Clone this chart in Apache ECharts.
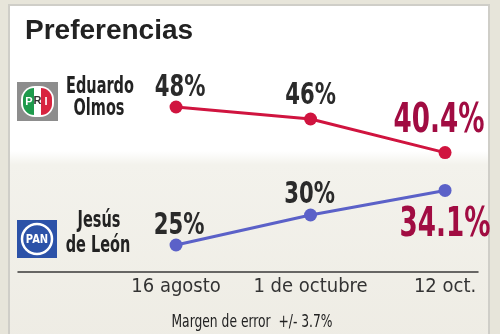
<!DOCTYPE html>
<html><head><meta charset="utf-8">
<script src="https://cdn.jsdelivr.net/npm/echarts@6/dist/echarts.min.js"></script>
<style>html,body{margin:0;padding:0;}#c{width:500px;height:334px;}</style>
</head><body><div id="c"></div>
<script>
const categories = ['16 agosto', '1 de octubre', '12 oct.'];
const olmos = [48, 46, 40.4];
const leon = [25, 30, 34.1];
const titleText = 'Preferencias';
const note = 'Margen de error  +/- 3.7%';

const NARROW = "'DejaVu Sans Condensed','Liberation Sans Narrow',sans-serif";
const RED = '#d0143f', BLUE = '#5b61c8', DARK = '#a10c42', INK = '#2a2a2a';

// label offsets (styling only)
const olmosOff = [[4, -19], [0, -23], [-6, -31]];
const leonOff = [[3, -19], [-1, -20], [0, 35]];

function labelSeries(vals, offs) {
  return {
    type: 'custom', z: 5,
    data: vals.map((v, i) => [i, v]),
    encode: {x: 0, y: 1},
    renderItem: (params, api) => {
      const i = params.dataIndex;
      const last = i === vals.length - 1;
      const pt = api.coord([api.value(0), api.value(1)]);
      return {
        type: 'text',
        x: pt[0] + offs[i][0], y: pt[1] + offs[i][1],
        scaleX: last ? 0.71 : 0.76,
        style: {
          text: api.value(1) + '%',
          font: (last ? 'bold 41px ' : 'bold 31px ') + NARROW,
          fill: last ? DARK : INK,
          align: 'center', verticalAlign: 'middle'
        }
      };
    }
  };
}

function narrowText(x, y, text, size, weight, scale) {
  return {type: 'text', x: x, y: y, scaleX: scale,
    style: {text: text, font: weight + ' ' + size + 'px ' + NARROW, fill: '#222', align: 'center', verticalAlign: 'middle'}};
}

const chart = echarts.init(document.getElementById('c'), null, {renderer: 'canvas'});
const panelFill = new echarts.graphic.LinearGradient(0, 0, 0, 1, [
  {offset: 0, color: '#ffffff'}, {offset: 0.43, color: '#ffffff'},
  {offset: 0.47, color: '#f3f2ec'}, {offset: 1, color: '#eeece4'}
]);
chart.setOption({
  backgroundColor: '#e7e5da',
  animation: false,
  grid: {left: 18, right: 22, top: 95, bottom: 62},
  xAxis: {
    type: 'value', min: -1.175, max: 2.245,
    axisLine: {show: true, onZero: false, lineStyle: {color: '#3a3a3a', width: 1.5}},
    axisTick: {show: false},
    splitLine: {show: false},
    axisLabel: {
      customValues: [0, 1, 2], margin: 5,
      formatter: v => categories[Math.round(v)] || '',
      fontFamily: NARROW, fontSize: 20, color: '#333'
    }
  },
  yAxis: {type: 'value', min: 20.5, max: 50, show: false},
  graphic: [
    {type: 'rect', z: -10, shape: {x: 9, y: 5, width: 480, height: 340},
     style: {fill: panelFill, stroke: '#cfcec8', lineWidth: 2}},
    {type: 'text', x: 25, y: 31, style: {text: titleText, font: "bold 28px 'Liberation Sans', Arial, sans-serif",
      fill: '#222', verticalAlign: 'middle', align: 'left'}},
    narrowText(100, 87, 'Eduardo', 23, 'bold', 0.7),
    narrowText(99, 109, 'Olmos', 23, 'bold', 0.7),
    narrowText(99, 221, 'Jesús', 23, 'bold', 0.7),
    narrowText(98, 246, 'de León', 23, 'bold', 0.7),
    narrowText(252, 322, note, 18, 'normal', 0.76),
    // PRI logo
    {type: 'group', x: 17, y: 82, children: [
      {type: 'rect', shape: {x: 0, y: 0, width: 41, height: 39}, style: {fill: '#8d8d8d'}},
      {type: 'rect', shape: {x: 4, y: 4, width: 33, height: 31, r: 14}, style: {fill: '#ffffff'}},
      {type: 'rect', shape: {x: 6, y: 6, width: 11, height: 27, r: [12, 0, 0, 12]}, style: {fill: '#1e9a4c'}},
      {type: 'rect', shape: {x: 24, y: 6, width: 11, height: 27, r: [0, 12, 12, 0]}, style: {fill: '#d8233f'}},
      {type: 'text', x: 12, y: 20, style: {text: 'P', font: 'bold 11px Arial, sans-serif', fill: '#fff', align: 'center', verticalAlign: 'middle'}},
      {type: 'text', x: 20.5, y: 19, style: {text: 'R', font: 'bold 11px Arial, sans-serif', fill: '#333', align: 'center', verticalAlign: 'middle'}},
      {type: 'text', x: 29, y: 20, style: {text: 'I', font: 'bold 11px Arial, sans-serif', fill: '#fff', align: 'center', verticalAlign: 'middle'}}
    ]},
    // PAN logo
    {type: 'group', x: 17, y: 220, children: [
      {type: 'rect', shape: {x: 0, y: 0, width: 40, height: 38}, style: {fill: '#2c52a8'}},
      {type: 'circle', shape: {cx: 20, cy: 19, r: 15}, style: {fill: '#2c52a8', stroke: '#fff', lineWidth: 2.5}},
      {type: 'text', x: 20, y: 19.5, scaleX: 0.85, style: {text: 'PAN', font: 'bold 13px ' + NARROW, fill: '#fff', align: 'center', verticalAlign: 'middle'}}
    ]}
  ],
  series: [
    {type: 'line', data: olmos.map((v, i) => [i, v]), symbol: 'circle', symbolSize: 13,
     lineStyle: {color: RED, width: 3}, itemStyle: {color: RED}},
    {type: 'line', data: leon.map((v, i) => [i, v]), symbol: 'circle', symbolSize: 13,
     lineStyle: {color: BLUE, width: 3}, itemStyle: {color: BLUE}},
    labelSeries(olmos, olmosOff),
    labelSeries(leon, leonOff)
  ]
});
</script></body></html>
